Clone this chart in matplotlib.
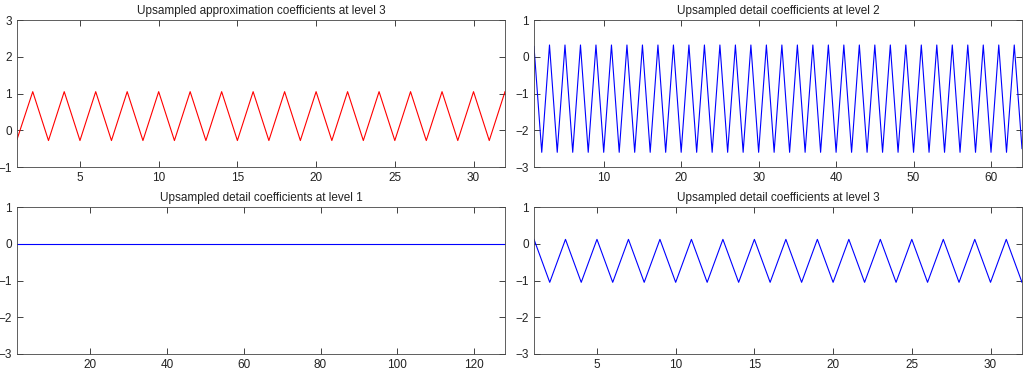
import numpy as np
import matplotlib.pyplot as plt

plt.rcParams['font.family'] = ['Liberation Sans', 'DejaVu Sans']

# approximation coefficients at level 3 (32 points)
approx3 = [-0.25, 1.05, -0.28, 1.05, -0.28, 1.05, -0.28, 1.05,
           -0.28, 1.05, -0.28, 1.05, -0.28, 1.05, -0.28, 1.05,
           -0.28, 1.05, -0.28, 1.05, -0.28, 1.05, -0.28, 1.05,
           -0.28, 1.05, -0.28, 1.05, -0.28, 1.05, -0.28, 1.05]

# detail coefficients at level 2 (64 points)
detail2 = [0.28, -2.6, 0.32, -2.6, 0.32, -2.6, 0.32, -2.6,
           0.32, -2.6, 0.32, -2.6, 0.32, -2.6, 0.32, -2.6,
           0.32, -2.6, 0.32, -2.6, 0.32, -2.6, 0.32, -2.6,
           0.32, -2.6, 0.32, -2.6, 0.32, -2.6, 0.32, -2.6,
           0.32, -2.6, 0.32, -2.6, 0.32, -2.6, 0.32, -2.6,
           0.32, -2.6, 0.32, -2.6, 0.32, -2.6, 0.32, -2.6,
           0.32, -2.6, 0.32, -2.6, 0.32, -2.6, 0.32, -2.6,
           0.32, -2.6, 0.32, -2.6, 0.32, -2.6, 0.32, -2.5]

# detail coefficients at level 1 (128 points, all zero)
detail1 = [0.0] * 128

# detail coefficients at level 3 (32 points)
detail3 = [0.12, -1.05, 0.12, -1.05, 0.12, -1.05, 0.12, -1.05,
           0.12, -1.05, 0.12, -1.05, 0.12, -1.05, 0.12, -1.05,
           0.12, -1.05, 0.12, -1.05, 0.12, -1.05, 0.12, -1.05,
           0.12, -1.05, 0.12, -1.05, 0.12, -1.05, 0.12, -1.05]

titles = ['Upsampled approximation coefficients at level 3',
          'Upsampled detail coefficients at level 2',
          'Upsampled detail coefficients at level 1',
          'Upsampled detail coefficients at level 3']

fig = plt.figure(figsize=(10.24, 3.70), dpi=100)
W, H = 1024, 370

def make_ax(left, top, right, bottom):
    return fig.add_axes([left / W, 1 - bottom / H, (right - left) / W, (bottom - top) / H])

axes = [make_ax(17, 20, 505, 167), make_ax(534, 20, 1022, 167),
        make_ax(17, 207, 505, 354), make_ax(534, 207, 1022, 354)]

series = [approx3, detail2, detail1, detail3]
colors = ['r', 'b', 'b', 'b']
ylims = [(-1, 3), (-3, 1), (-3, 1), (-3, 1)]
xticks = [[5, 10, 15, 20, 25, 30], [10, 20, 30, 40, 50, 60],
          [20, 40, 60, 80, 100, 120], [5, 10, 15, 20, 25, 30]]

for ax, y, c, yl, xt, t in zip(axes, series, colors, ylims, xticks, titles):
    x = np.arange(1, len(y) + 1)
    ax.plot(x, y, color=c, lw=0.8)
    ax.set_xlim(1, len(y))
    ax.set_ylim(*yl)
    ax.set_xticks(xt)
    ax.set_yticks(np.arange(yl[0], yl[1] + 1))
    ax.tick_params(direction='in', top=True, right=True, labelsize=8.5,
                   length=4, width=0.6, pad=3.5, colors='#222222')
    for s in ax.spines.values():
        s.set_linewidth(0.6)
        s.set_color('#444444')
    ax.set_title(t, fontsize=8.5, pad=4, color='#222222')

fig.savefig('out.png', dpi=100)
